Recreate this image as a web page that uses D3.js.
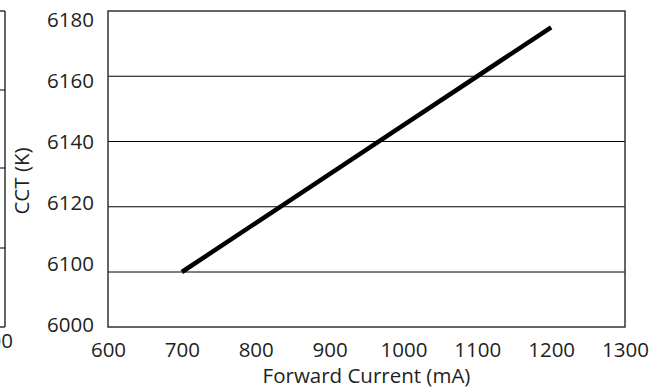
<!DOCTYPE html>
<html lang="en">
<head>
    <meta charset="UTF-8">
    <title>CCT vs Forward Current</title>
    <script src="https://d3js.org/d3.v7.min.js"></script>
    <style>
        body { margin: 0; background: white; }
        svg { display: block; }
        text { font-family: "Open Sans", sans-serif; font-size: 20.5px; fill: #231f20; }
        .grid { stroke: #000; stroke-width: 1; }
        .frame { fill: none; stroke: #333; stroke-width: 1.5; }
        .curve { fill: none; stroke: #000; stroke-width: 4.5; }
    </style>
</head>
<body>
    <svg width="654" height="391"></svg>

    <script>
        // data
        let currents = [700, 800, 900, 1000, 1100, 1200];
        let cct = [6100, 6115, 6130, 6145, 6160, 6175];
        let xTicks = [600, 700, 800, 900, 1000, 1100, 1200, 1300];
        let yTicks = [6000, 6100, 6120, 6140, 6160, 6180];

        let svg = d3.select("svg");
        let plotL = 108, plotR = 625, plotT = 11, plotB = 327;

        let x = d3.scaleLinear().domain([600, 1300]).range([plotL, plotR]);
        // broken axis: 6000 -> 6100 squeezed at the bottom
        let y = d3.scaleLinear().domain([6000, 6100, 6180]).range([plotB, 272, plotT]);

        // edge of the neighbouring chart on the left
        let edge = svg.append("g");
        edge.append("line").attr("class", "frame")
            .attr("x1", 5).attr("x2", 5).attr("y1", plotT).attr("y2", plotB);
        [plotT, 90, 168, 248, plotB].forEach(v => {
            edge.append("line").attr("class", v === plotT || v === plotB ? "frame" : "grid")
                .attr("x1", 0).attr("x2", 5).attr("y1", v).attr("y2", v);
        });
        edge.append("text").attr("x", 13).attr("y", 348)
            .attr("text-anchor", "end").text("1300");

        // gridlines
        svg.append("g").selectAll("line")
            .data(yTicks.filter(d => d > 6000 && d < 6180))
            .enter().append("line")
            .attr("class", "grid")
            .attr("x1", plotL).attr("x2", plotR)
            .attr("y1", d => y(d)).attr("y2", d => y(d));

        // axes
        let yAxis = svg.append("g")
            .attr("transform", `translate(${plotL},0)`)
            .call(d3.axisLeft(y).tickValues(yTicks).tickSize(0).tickPadding(14).tickFormat(d3.format("d")));
        let xAxis = svg.append("g")
            .attr("transform", `translate(0,${plotB})`)
            .call(d3.axisBottom(x).tickValues(xTicks).tickSize(0).tickPadding(15).tickFormat(d3.format("d")));
        [yAxis, xAxis].forEach(a => {
            a.select(".domain").remove();
            a.selectAll("text").style("font-family", "'Open Sans', sans-serif").style("font-size", "20.5px").attr("fill", "#231f20");
        });
        // the printed labels sit a little closer together than the gridlines
        let mid = y(6140);
        yAxis.selectAll(".tick text")
            .attr("y", d => d === 6000 ? -2 : (mid - y(d)) * 0.065);

        svg.append("rect").attr("class", "frame")
            .attr("x", plotL).attr("y", plotT)
            .attr("width", plotR - plotL).attr("height", plotB - plotT);

        // data line
        let pts = currents.map((c, i) => [c, cct[i]]);
        svg.append("path")
            .datum(pts)
            .attr("class", "curve")
            .attr("d", d3.line().x(d => x(d[0])).y(d => y(d[1])));

        // axis titles
        svg.append("text")
            .attr("x", (plotL + plotR) / 2).attr("y", 383)
            .attr("text-anchor", "middle")
            .text("Forward Current (mA)");
        svg.append("text")
            .attr("transform", "translate(29,181) rotate(-90)")
            .attr("text-anchor", "middle")
            .text("CCT (K)");
    </script>
</body>
</html>
